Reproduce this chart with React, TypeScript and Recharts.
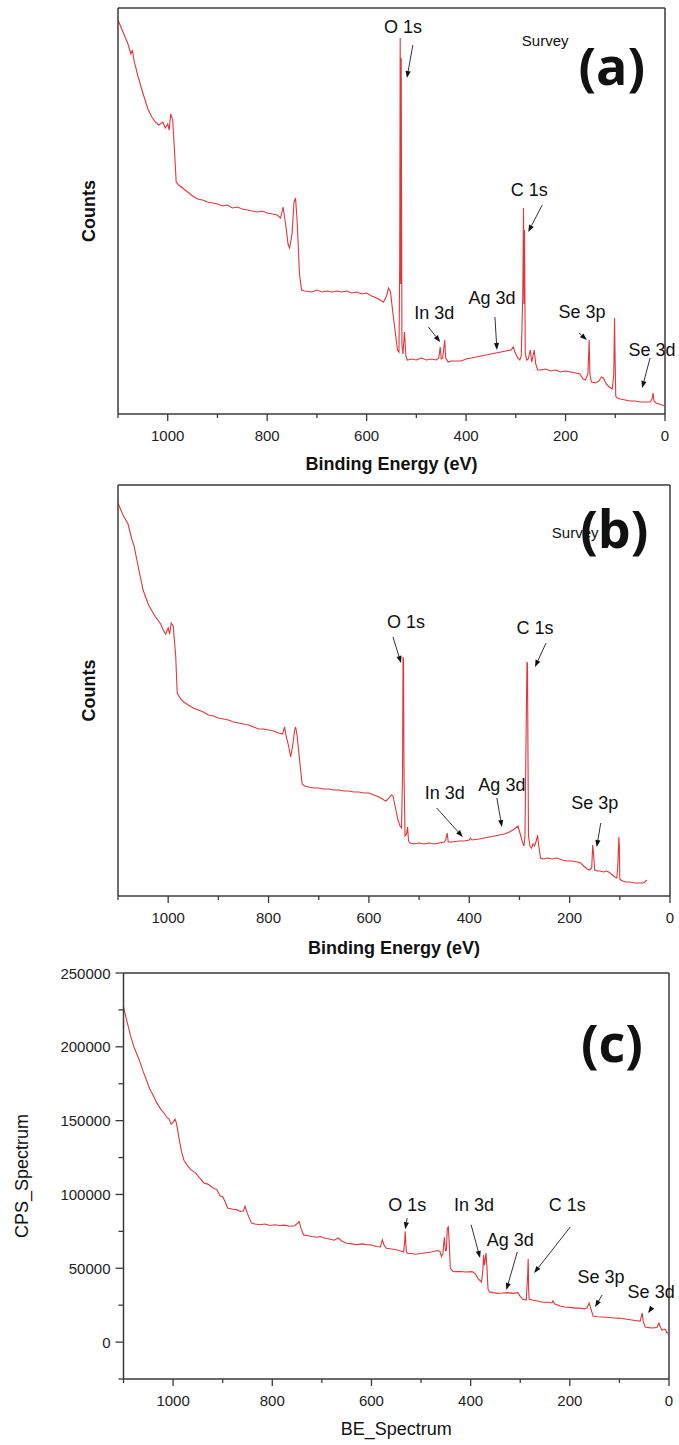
import React from 'react';
import { LineChart, Line, XAxis, YAxis, ReferenceLine, ReferenceDot } from 'recharts';

// survey spectra: [binding energy (eV), counts]
// panel (a) and (b) have no y scale, counts are arbitrary units
const spectrumA: [number, number][] = [
  [1100, 394], [1090, 382], [1080, 370], [1074, 360], [1071, 364], [1068, 354], [1060, 338],
  [1050, 321], [1040, 305], [1032, 297], [1025, 292], [1018, 289], [1010, 292], [1005, 286],
  [1000, 290], [997, 284], [994, 300], [990, 294], [986, 260], [983, 232], [978, 229],
  [970, 226], [960, 222], [950, 218], [940, 215], [930, 214], [920, 212], [910, 211],
  [900, 210], [890, 208], [880, 209], [870, 206], [860, 207], [850, 205], [840, 204],
  [830, 203], [820, 202], [810, 203], [800, 201], [790, 200], [780, 199], [773, 196],
  [768, 207], [763, 190], [758, 170], [755, 166], [750, 180], [746, 212], [743, 216],
  [740, 195], [735, 140], [731, 124], [725, 123], [710, 122], [700, 124], [690, 122],
  [680, 123], [670, 122], [660, 123], [650, 122], [640, 123], [630, 121], [620, 122],
  [610, 120], [600, 121], [590, 118], [580, 116], [570, 113], [566, 112], [560, 118],
  [556, 126], [552, 122], [547, 100], [542, 80], [538, 64], [535, 62], [533.5, 150],
  [532.5, 376], [531.5, 130], [530.5, 356], [529, 70], [527, 60], [524, 82], [521, 58],
  [518, 54], [510, 55], [500, 54], [490, 56], [480, 54], [470, 55], [460, 54], [455, 56],
  [452, 67], [450, 55], [447, 56], [443, 74], [441, 56], [436, 52], [430, 53], [420, 53],
  [410, 53], [400, 55], [390, 56], [380, 57], [370, 58], [360, 59], [350, 60], [340, 61],
  [330, 62], [320, 63], [310, 64], [305, 67], [302, 62], [296, 56], [292, 54], [289, 58],
  [286, 120], [284.5, 206], [283.5, 110], [282.5, 184], [281, 60], [278, 54], [275, 55],
  [271, 64], [268, 52], [263, 64], [260, 50], [256, 44], [250, 44], [240, 45], [230, 43],
  [220, 44], [210, 42], [200, 43], [190, 42], [180, 41], [171, 40], [165, 35], [160, 34],
  [155, 40], [152.5, 74], [151, 40], [148, 32], [140, 31], [133, 33], [128, 37], [124, 36],
  [118, 30], [112, 27], [106, 25], [103, 40], [101.5, 96], [100.5, 60], [99, 18], [96, 16],
  [90, 15], [80, 14], [70, 13], [60, 13], [50, 12], [40, 12], [30, 12], [26, 15], [24, 21],
  [22, 13], [18, 11], [12, 10], [6, 9], [1, 8],
];

const spectrumB: [number, number][] = [
  [1100, 393], [1090, 381], [1080, 372], [1072, 356], [1068, 350], [1060, 330], [1050, 306],
  [1040, 292], [1030, 283], [1025, 279], [1015, 272], [1010, 266], [1005, 262], [1000, 268],
  [997, 262], [994, 273], [990, 270], [985, 240], [982, 203], [975, 197], [969, 194],
  [960, 191], [950, 188], [940, 186], [930, 184], [920, 181], [910, 180], [900, 178],
  [890, 177], [880, 176], [870, 174], [860, 173], [850, 172], [840, 171], [830, 169],
  [820, 167], [810, 167], [800, 166], [790, 165], [780, 163], [772, 162], [768, 169],
  [765, 160], [760, 150], [756, 139], [752, 150], [748, 166], [746, 169], [743, 160],
  [738, 135], [733, 112], [728, 110], [720, 109], [710, 108], [700, 108], [690, 107],
  [680, 107], [670, 106], [660, 106], [650, 105], [640, 105], [630, 104], [620, 104],
  [610, 103], [600, 103], [590, 101], [580, 99], [570, 96], [566, 95], [560, 98],
  [555, 101], [552, 100], [547, 88], [542, 76], [538, 70], [535, 68], [533, 120],
  [532, 239], [531, 236], [530, 120], [528, 60], [525, 62], [523, 69], [521, 55],
  [518, 53], [510, 52], [500, 53], [490, 52], [480, 53], [470, 52], [460, 53], [450, 54],
  [447, 56], [444, 63], [442, 54], [435, 54], [420, 55], [410, 55], [400, 56], [398, 58],
  [395, 56], [380, 57], [370, 58], [360, 59], [350, 60], [340, 61], [330, 62], [320, 64],
  [310, 67], [303, 70], [299, 63], [294, 54], [291, 50], [289, 60], [287, 150], [285, 234],
  [284, 232], [283, 140], [282, 60], [279, 50], [276, 48], [273, 52], [270, 50], [266, 56],
  [264, 61], [262, 52], [258, 38], [252, 37], [245, 38], [235, 37], [225, 38], [215, 36],
  [205, 35], [195, 35], [185, 34], [178, 33], [172, 30], [165, 27], [160, 26], [156, 28],
  [154, 51], [152, 40], [150, 26], [145, 25], [140, 25], [132, 24], [127, 25], [122, 24],
  [115, 21], [110, 19], [106, 18], [104, 30], [102, 59], [101, 50], [100, 17], [98, 16],
  [94, 15], [88, 14], [80, 14], [70, 13], [60, 13], [55, 13], [50, 14], [46, 16],
];

const spectrumC: [number, number][] = [
  [1100, 227000], [1095, 220000], [1086, 207700], [1078, 199000], [1069, 191800],
  [1060, 183000], [1047, 171400], [1040, 167000], [1033, 162000], [1025, 157800],
  [1018, 155000], [1012, 152000], [1008, 151000], [1004, 147500], [1000, 149000],
  [996, 151000], [993, 148000], [988, 138000], [983, 129000], [978, 123000], [972, 120000],
  [965, 117000], [955, 114600], [946, 111000], [938, 107800], [930, 107000], [920, 104500],
  [912, 103300], [905, 99000], [900, 98500], [895, 95000], [890, 90800], [880, 90000],
  [872, 89700], [864, 88500], [858, 89000], [855, 92000], [850, 87000], [842, 80600],
  [835, 80000], [825, 79500], [815, 80000], [805, 79000], [795, 79500], [785, 79000],
  [775, 79200], [765, 78500], [755, 78800], [749, 80500], [746, 81700], [742, 77000],
  [737, 72600], [728, 72000], [720, 71500], [710, 71000], [703, 71500], [695, 70500],
  [685, 69800], [675, 69000], [667, 70500], [660, 68500], [650, 67000], [640, 66500],
  [630, 66000], [620, 66500], [610, 66000], [600, 65800], [590, 64800], [582, 64500],
  [578, 69200], [575, 66000], [570, 63500], [560, 63000], [550, 62500], [545, 62000],
  [540, 61500], [535, 61000], [533, 68000], [532, 75000], [531, 70000], [530, 62000],
  [528, 60200], [520, 60000], [511, 59500], [500, 60000], [490, 60500], [480, 61000],
  [467, 62000], [462, 61500], [459, 58000], [456, 60000], [453, 71000], [451, 62000],
  [449, 62000], [447, 77000], [445, 78000], [443, 66000], [441, 50000], [436, 48000],
  [432, 47700], [420, 47800], [410, 47500], [397, 47700], [390, 46000], [385, 43000],
  [378, 40700], [375, 50000], [374, 59000], [372, 52000], [369, 60400], [367, 50000],
  [365, 36000], [362, 34000], [355, 33500], [345, 33000], [335, 33200], [325, 33500],
  [315, 33000], [305, 33500], [300, 31000], [295, 29000], [288, 28500], [285, 45000],
  [284, 56300], [283.5, 50000], [283, 35000], [282, 29000], [276, 28500], [265, 27800],
  [255, 27000], [245, 27000], [236, 26500], [234, 28000], [231, 26000], [220, 24500],
  [210, 23800], [200, 23500], [190, 23000], [180, 23000], [170, 22500], [165, 23500],
  [161, 26400], [157, 22000], [153, 17600], [145, 17200], [135, 17000], [125, 16800],
  [115, 16500], [105, 16200], [95, 16000], [85, 15500], [75, 15000], [65, 14500],
  [58, 14200], [56, 17000], [54, 19700], [52, 14000], [48, 10200], [40, 9800], [32, 9500],
  [24, 10000], [21, 12500], [20, 12900], [18, 10500], [14, 8000], [10, 8800], [7, 8200],
  [4, 6100], [0, 6500],
];

const xTicks = [1100, 1000, 900, 800, 700, 600, 500, 400, 300, 200, 100, 0];
const yTicksC = [-25000, 0, 25000, 50000, 75000, 100000, 125000, 150000, 175000, 200000, 225000, 250000];

// peak labels: text, binding energy, height
const notesA = [
  { text: 'O 1s', be: 527, v: 387 },
  { text: 'C 1s', be: 273, v: 224 },
  { text: 'In 3d', be: 464, v: 101 },
  { text: 'Ag 3d', be: 348, v: 116 },
  { text: 'Se 3p', be: 167, v: 102 },
  { text: 'Se 3d', be: 26, v: 64 },
];
const arrowsA = [
  [[507, 369], [519, 336]],
  [[247, 209], [275, 182]],
  [[476, 87], [452, 72]],
  [[342, 97], [338, 64]],
  [[173, 81], [157, 74]],
  [[30, 56], [46, 26]],
];

const notesB = [
  { text: 'O 1s', be: 526, v: 274 },
  { text: 'C 1s', be: 269, v: 268 },
  { text: 'In 3d', be: 449, v: 103 },
  { text: 'Ag 3d', be: 335, v: 111 },
  { text: 'Se 3p', be: 150, v: 93 },
];
const arrowsB = [
  [[552, 259], [536, 233]],
  [[247, 253], [269, 229]],
  [[465, 88], [413, 59]],
  [[345, 98], [335, 69]],
  [[138, 73], [146, 49]],
];

const notesC = [
  { text: 'O 1s', be: 528, v: 92900 },
  { text: 'In 3d', be: 393, v: 92900 },
  { text: 'Ag 3d', be: 320, v: 69200 },
  { text: 'C 1s', be: 205, v: 92900 },
  { text: 'Se 3p', be: 137, v: 44100 },
  { text: 'Se 3d', be: 36, v: 33900 },
];
const arrowsC = [
  [[528, 84000], [532, 76500]],
  [[399, 79400], [381, 57000]],
  [[306, 61000], [328, 35300]],
  [[199, 78000], [272, 46800]],
  [[135, 31900], [149, 23700]],
  [[34, 23700], [42, 19700]],
];

const FONT = '"Liberation Sans", Arial, Helvetica, sans-serif';
const AXIS = '#3a3a3a';
const RED = '#e2363b';

const toRows = (s: [number, number][]) => s.map(([be, v]) => ({ be, v }));

const BottomTick = (props: any) => {
  const { x, y, payload } = props;
  const major = payload.value % 200 === 0;
  return (
    <g>
      <line x1={x} y1={y} x2={x} y2={y + (major ? 7 : 4)} stroke={AXIS} strokeWidth={1.3} />
      {major && (
        <text x={x} y={y + 21} textAnchor="middle" dominantBaseline="central" fontSize={15} fontFamily={FONT} fill="#222">
          {payload.value}
        </text>
      )}
    </g>
  );
};

const LeftTick = (props: any) => {
  const { x, y, payload } = props;
  const major = payload.value % 50000 === 0;
  return (
    <g>
      <line x1={x} y1={y} x2={x - (major ? 8 : 5)} y2={y} stroke={AXIS} strokeWidth={1.3} />
      {major && payload.value >= 0 && (
        <text x={x - 13} y={y} textAnchor="end" dominantBaseline="central" fontSize={15} fontFamily={FONT} fill="#222">
          {payload.value}
        </text>
      )}
    </g>
  );
};

const arrowShape = (p: any) => {
  const { x1, y1, x2, y2 } = p;
  const a = Math.atan2(y2 - y1, x2 - x1);
  const L = 7;
  const W = 2.6;
  const bx = x2 - L * Math.cos(a);
  const by = y2 - L * Math.sin(a);
  const pts = [
    `${x2},${y2}`,
    `${bx + W * Math.sin(a)},${by - W * Math.cos(a)}`,
    `${bx - W * Math.sin(a)},${by + W * Math.cos(a)}`,
  ].join(' ');
  return (
    <g>
      <line x1={x1} y1={y1} x2={bx} y2={by} stroke="#333" strokeWidth={1} />
      <polygon points={pts} fill="#111" />
    </g>
  );
};

const textShape = (text: string, size: number, opts: any = {}) => (p: any) => (
  <text
    x={p.cx}
    y={p.cy}
    textAnchor="middle"
    dominantBaseline={opts.baseline || 'central'}
    fontSize={size}
    fontFamily={opts.family || FONT}
    fontWeight={opts.weight || 'normal'}
    fill="#111"
  >
    {text}
  </text>
);

interface PanelProps {
  data: { be: number; v: number }[];
  top: number;
  height: number;
  margin: { top: number; right: number; bottom: number; left: number };
  yWidth: number;
  yDomain: [number, number];
  yTicks?: number[];
  yTitle: string;
  yTitleGap: number;
  xTitle: string;
  xTitleDy: number;
  bold: boolean;
  notes: { text: string; be: number; v: number }[];
  arrows: number[][][];
  survey?: [number, number];
  tag: { text: string; be: number; v: number };
}

const Panel = (p: PanelProps) => {
  const titleWeight = p.bold ? 'bold' : 'normal';
  return (
    <div style={{ position: 'absolute', left: 0, top: p.top }}>
      <LineChart width={679} height={p.height} data={p.data} margin={p.margin}>
        <XAxis
          dataKey="be"
          type="number"
          domain={[0, 1100]}
          reversed
          allowDataOverflow
          ticks={xTicks}
          interval={0}
          tickSize={0}
          tickMargin={0}
          tickLine={false}
          tick={<BottomTick />}
          height={60}
          axisLine={{ stroke: AXIS, strokeWidth: 1.5 }}
          label={{
            content: (lp: any) => {
              const vb = lp.viewBox;
              return (
                <text
                  x={vb.x + vb.width / 2}
                  y={vb.y + p.xTitleDy}
                  textAnchor="middle"
                  dominantBaseline="central"
                  fontSize={18}
                  fontWeight={titleWeight}
                  fontFamily={FONT}
                  fill="#111"
                >
                  {p.xTitle}
                </text>
              );
            },
          }}
        />
        <YAxis
          type="number"
          domain={p.yDomain}
          allowDataOverflow
          width={p.yWidth}
          ticks={p.yTicks}
          interval={0}
          tickSize={0}
          tickMargin={0}
          tickLine={false}
          tick={p.yTicks ? <LeftTick /> : false}
          axisLine={{ stroke: AXIS, strokeWidth: 1.5 }}
          label={{
            content: (lp: any) => {
              const vb = lp.viewBox;
              const cx = vb.x + vb.width - p.yTitleGap;
              const cy = vb.y + vb.height / 2;
              return (
                <text
                  x={cx}
                  y={cy}
                  transform={`rotate(-90 ${cx} ${cy})`}
                  textAnchor="middle"
                  dominantBaseline="central"
                  fontSize={18}
                  fontWeight={titleWeight}
                  fontFamily={FONT}
                  fill="#111"
                >
                  {p.yTitle}
                </text>
              );
            },
          }}
        />
        <ReferenceLine y={p.yDomain[1]} stroke={AXIS} strokeWidth={1.5} />
        <ReferenceLine x={0} stroke={AXIS} strokeWidth={1.5} />
        <Line dataKey="v" type="linear" stroke={RED} strokeWidth={1.1} dot={false} isAnimationActive={false} />
        {p.arrows.map((s, i) => (
          <ReferenceLine
            key={`ar${i}`}
            segment={[{ x: s[0][0], y: s[0][1] }, { x: s[1][0], y: s[1][1] }]}
            ifOverflow="visible"
            shape={arrowShape}
          />
        ))}
        {p.notes.map((n, i) => (
          <ReferenceDot key={`n${i}`} x={n.be} y={n.v} ifOverflow="visible" shape={textShape(n.text, 18)} />
        ))}
        {p.survey && (
          <ReferenceDot x={p.survey[0]} y={p.survey[1]} ifOverflow="visible" shape={textShape('Survey', 15)} />
        )}
        <ReferenceDot
          x={p.tag.be}
          y={p.tag.v}
          ifOverflow="visible"
          shape={textShape(p.tag.text, 52, { baseline: 'alphabetic', family: '"Open Sans", "Noto Sans", sans-serif', weight: 700 })}
        />
      </LineChart>
    </div>
  );
};

export default function App() {
  return (
    <div style={{ position: 'absolute', left: 0, top: 0, width: 679, height: 1445, background: '#fff' }}>
      <Panel
        data={toRows(spectrumA)}
        top={0}
        height={480}
        margin={{ top: 8, right: 14, bottom: 6, left: 60 }}
        yWidth={58}
        yDomain={[0, 406]}
        yTitle="Counts"
        yTitleGap={29}
        xTitle="Binding Energy (eV)"
        xTitleDy={50}
        bold
        notes={notesA}
        arrows={arrowsA}
        survey={[241, 374]}
        tag={{ text: '(a)', be: 107, v: 329 }}
      />
      <Panel
        data={toRows(spectrumB)}
        top={480}
        height={480}
        margin={{ top: 5, right: 9, bottom: 4, left: 60 }}
        yWidth={58}
        yDomain={[0, 411]}
        yTitle="Counts"
        yTitleGap={29}
        xTitle="Binding Energy (eV)"
        xTitleDy={52}
        bold
        notes={notesB}
        arrows={arrowsB}
        survey={[189, 364]}
        tag={{ text: '(b)', be: 111, v: 348 }}
      />
      <Panel
        data={toRows(spectrumC)}
        top={960}
        height={485}
        margin={{ top: 13, right: 10, bottom: 6, left: 3.5 }}
        yWidth={120}
        yDomain={[-25000, 250000]}
        yTicks={yTicksC}
        yTitle="CPS_Spectrum"
        yTitleGap={101.5}
        xTitle="BE_Spectrum"
        xTitleDy={50}
        bold={false}
        notes={notesC}
        arrows={arrowsC}
        tag={{ text: '(c)', be: 115, v: 190000 }}
      />
    </div>
  );
}
